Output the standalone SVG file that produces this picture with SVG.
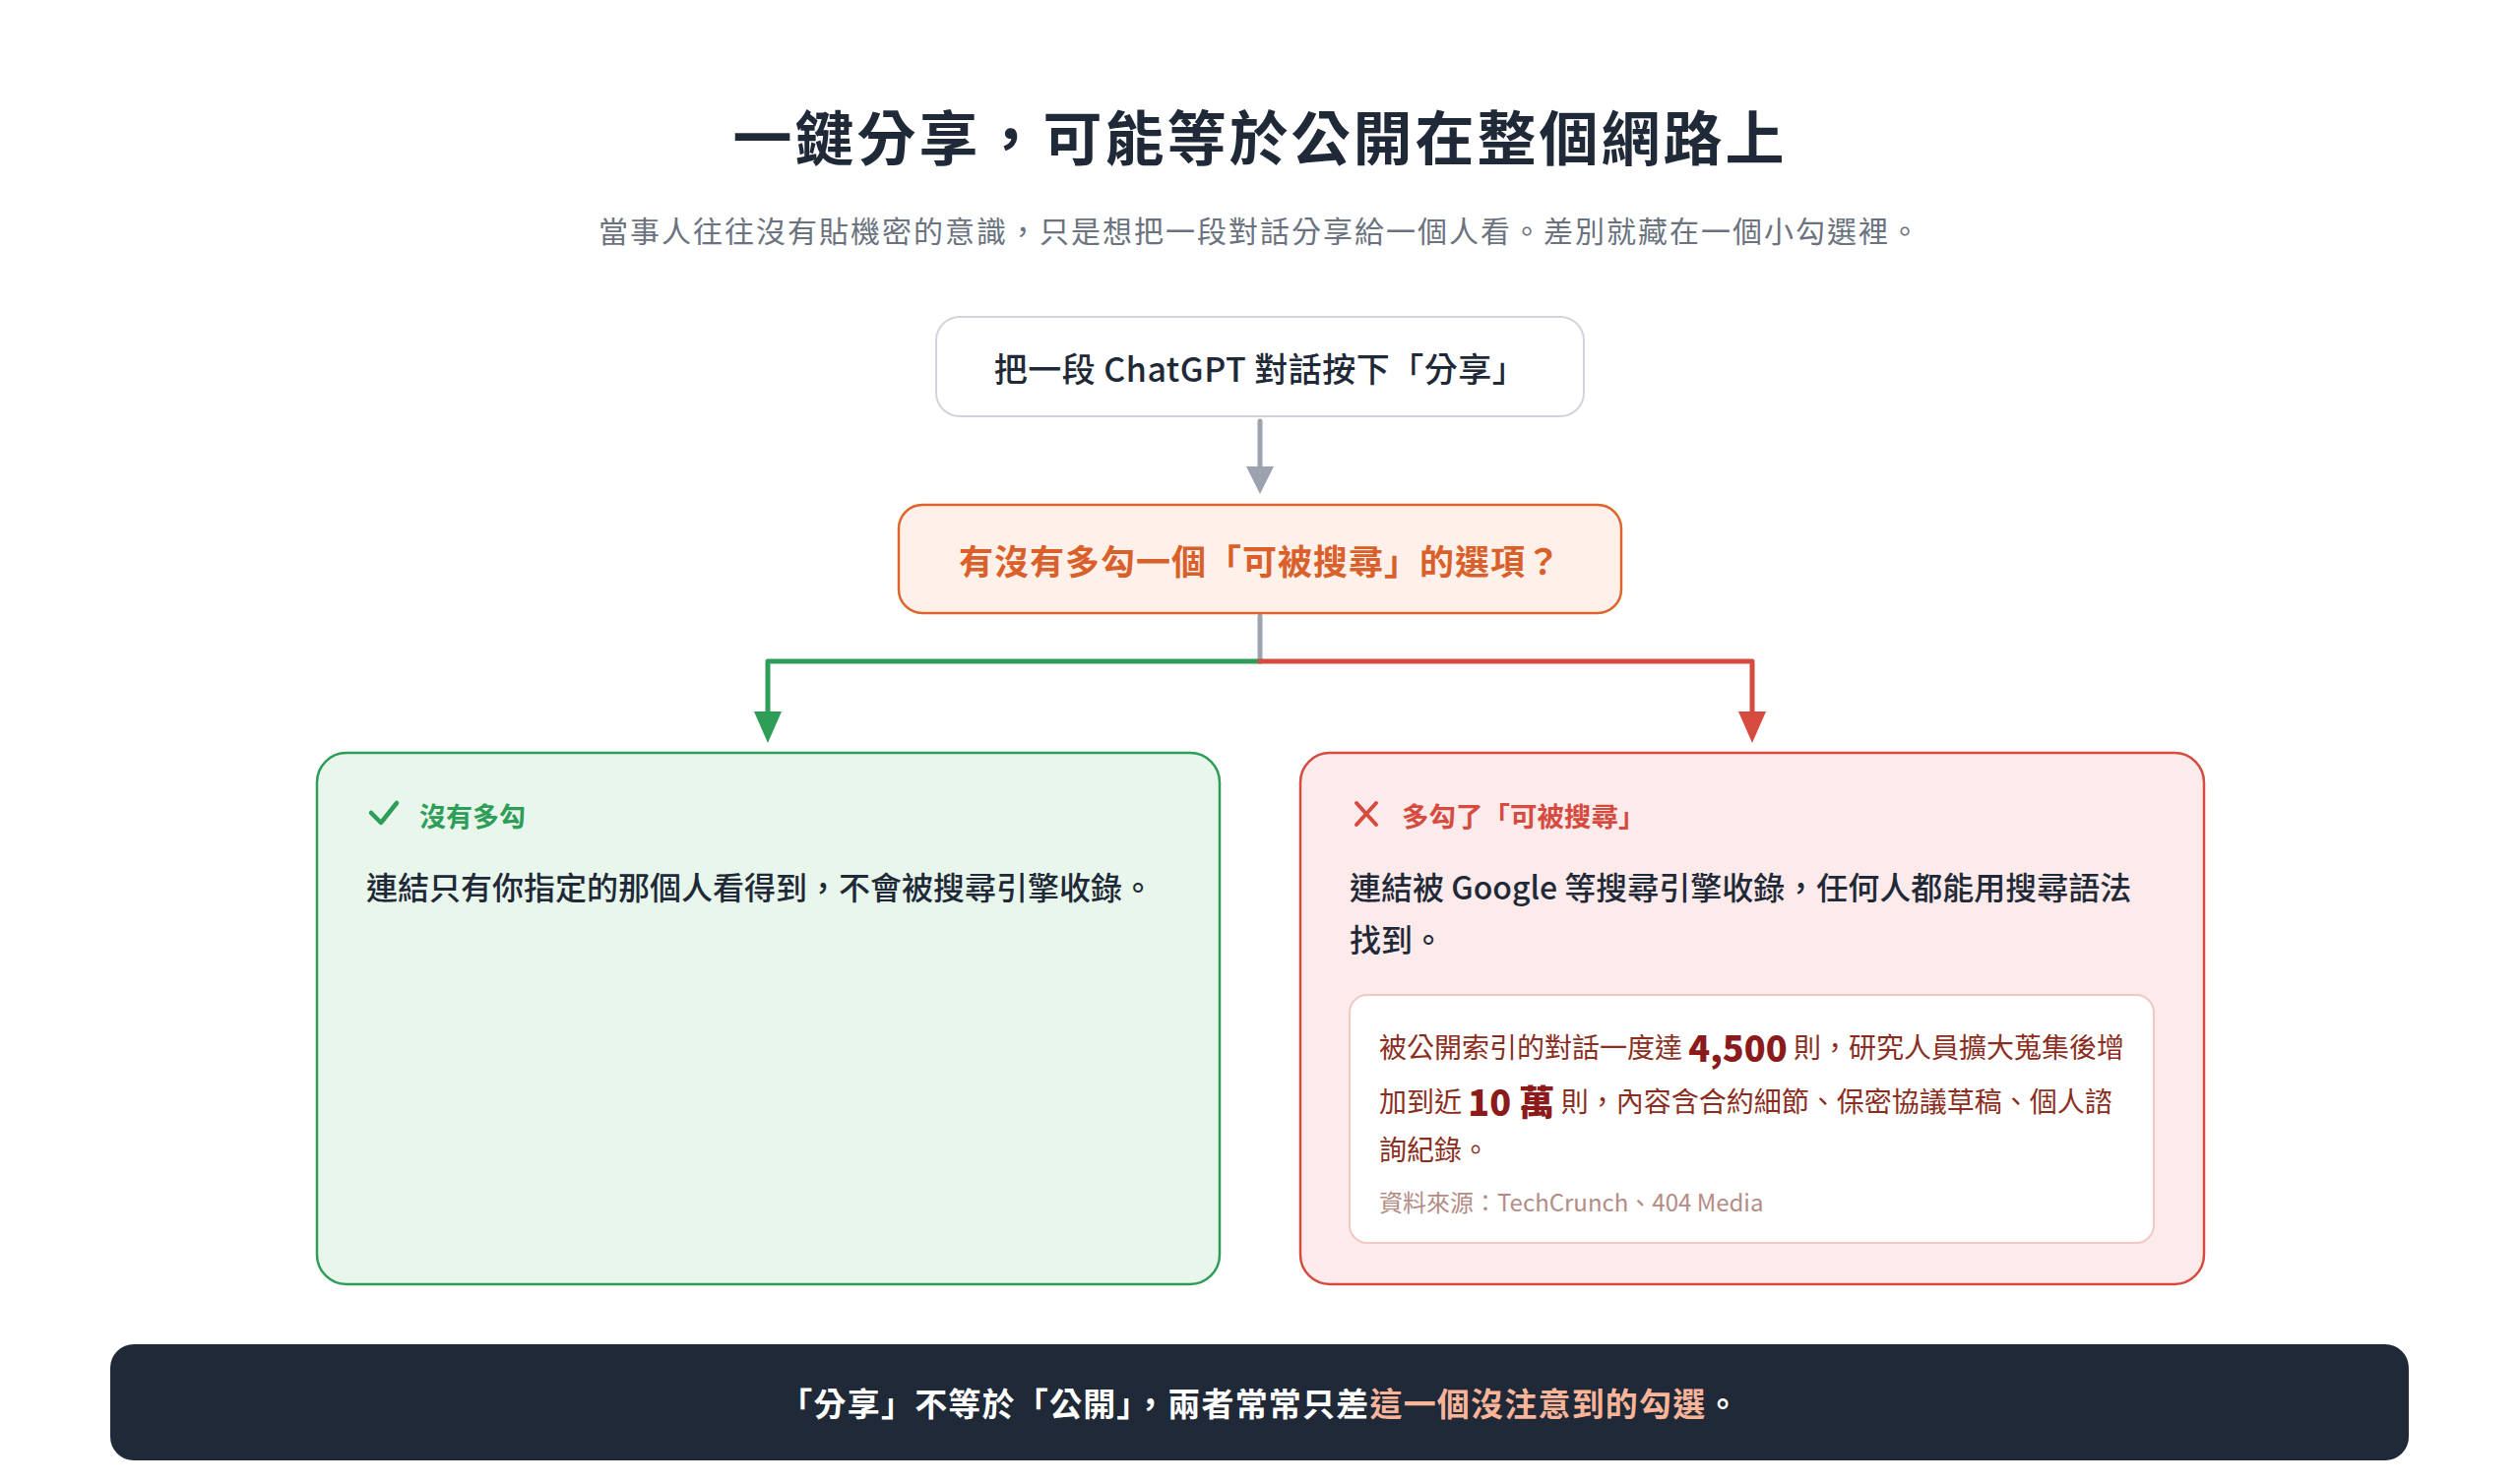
<svg xmlns="http://www.w3.org/2000/svg" width="2560" height="1508" viewBox="0 0 2560 1508">
<style>
text{font-family:"Noto Sans CJK TC","Noto Sans",sans-serif;dominant-baseline:central}
.title{font-size:60px;font-weight:700;fill:#1f2937;letter-spacing:3px}
.sub{font-size:30px;fill:#6b7280;letter-spacing:2px}
.n1{font-size:34px;fill:#1f2937;font-weight:500;letter-spacing:0.5px}
.n2{font-size:35px;fill:#d9602a;font-weight:700;letter-spacing:1px}
.hg{font-size:27px;fill:#2e9d57;font-weight:700}
.hr{font-size:27.5px;fill:#d64b3f;font-weight:700}
.body{font-size:32px;fill:#1f2937;font-weight:500}
.inner{font-size:28px;fill:#8b2e22}
.big{font-size:36px;font-weight:800;fill:#8b1a1a}
.src{font-size:24px;fill:#b48c86}
.foot{font-size:33px;fill:#ffffff;font-weight:700;letter-spacing:1.2px}
.hl{fill:#f9b49a}
.conn{fill:none;stroke-width:5;stroke-linejoin:round;stroke-linecap:round}
</style>
<rect width="2560" height="1508" fill="#ffffff"/>
<text class="title" x="1280" y="136" text-anchor="middle">一鍵分享，可能等於公開在整個網路上</text>
<text class="sub" x="1280" y="233" text-anchor="middle">當事人往往沒有貼機密的意識，只是想把一段對話分享給一個人看。差別就藏在一個小勾選裡。</text>

<g id="connectors">
<path class="conn" d="M1280 428 V476" stroke="#9ca3af"/>
<polygon points="1266,474 1294,474 1280,502" fill="#9ca3af"/>
<path class="conn" d="M1280 626 V672" stroke="#9ca3af"/>
<path class="conn" d="M1280 672 H780 V726" stroke="#2e9d57"/>
<polygon points="766,723 794,723 780,755" fill="#2e9d57"/>
<path class="conn" d="M1280 672 H1780 V726" stroke="#d64b3f"/>
<polygon points="1766,723 1794,723 1780,755" fill="#d64b3f"/>
</g>

<g id="node-share">
<rect x="951" y="322" width="658" height="101" rx="24" fill="#ffffff" stroke="#d1d5db" stroke-width="2"/>
<text class="n1" x="1280" y="373" text-anchor="middle">把一段 ChatGPT 對話按下「分享」</text>
</g>

<g id="node-question">
<rect x="913" y="513" width="734" height="110" rx="24" fill="#fff1ea" stroke="#e0632a" stroke-width="2.5"/>
<text class="n2" x="1280" y="568" text-anchor="middle">有沒有多勾一個「可被搜尋」的選項？</text>
</g>

<g id="node-no">
<rect x="322" y="765" width="917" height="540" rx="30" fill="#e8f6ec" stroke="#2e9d57" stroke-width="2.5"/>
<path d="M377 826 L387 836 L403 816" fill="none" stroke="#2e9d57" stroke-width="4.5" stroke-linecap="round" stroke-linejoin="round"/>
<text class="hg" x="426" y="828">沒有多勾</text>
<text class="body" x="372" y="900">連結只有你指定的那個人看得到，不會被搜尋引擎收錄。</text>
</g>

<g id="node-yes">
<rect x="1321" y="765" width="918" height="540" rx="30" fill="#fdeaea" stroke="#d64b3f" stroke-width="2.5"/>
<path d="M1378 816 L1398 838 M1398 816 L1378 838" fill="none" stroke="#d64b3f" stroke-width="4" stroke-linecap="round"/>
<text class="hr" x="1424" y="828">多勾了「可被搜尋」</text>
<text class="body" x="1371" y="900">連結被 Google 等搜尋引擎收錄，任何人都能用搜尋語法</text>
<text class="body" x="1371" y="953">找到。</text>
<rect x="1371" y="1011" width="817" height="252" rx="18" fill="#ffffff" stroke="#f0c7c3" stroke-width="2"/>
<text class="inner" x="1401" y="1063">被公開索引的對話一度達 <tspan class="big">4,500</tspan> 則，研究人員擴大蒐集後增</text>
<text class="inner" x="1401" y="1118">加到近 <tspan class="big">10 萬</tspan> 則，內容含合約細節、保密協議草稿、個人諮</text>
<text class="inner" x="1401" y="1167">詢紀錄。</text>
<text class="src" x="1401" y="1220">資料來源：TechCrunch、404 Media</text>
</g>

<g id="footer">
<rect x="112" y="1366" width="2335" height="118" rx="24" fill="#1f2937"/>
<text class="foot" x="1280" y="1425" text-anchor="middle">「分享」不等於「公開」，兩者常常只差<tspan class="hl">這一個沒注意到的勾選</tspan>。</text>
</g>
</svg>
